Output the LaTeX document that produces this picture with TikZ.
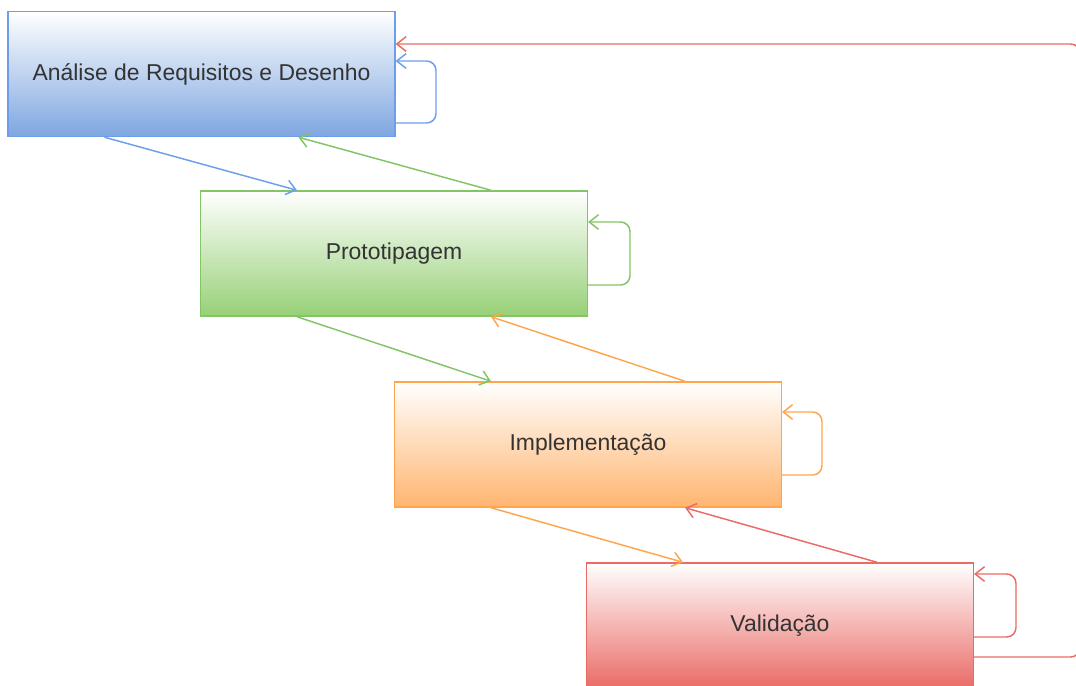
\documentclass[tikz,border=0pt]{standalone}
\usepackage{fontspec}
\setmainfont{Liberation Sans}
\usetikzlibrary{arrows.meta,calc}
\definecolor{blueS}{HTML}{6D9EEB}
\definecolor{blueF}{HTML}{7EA6E0}
\definecolor{greenS}{HTML}{82C566}
\definecolor{greenF}{HTML}{97D077}
\definecolor{orangeS}{HTML}{FFA64D}
\definecolor{orangeF}{HTML}{FFB570}
\definecolor{redS}{HTML}{EA6B66}
\definecolor{redF}{HTML}{EA6B66}
\definecolor{txt}{HTML}{333333}
\begin{document}
\begin{tikzpicture}[x=0.75pt,y=-0.75pt,
  phase/.style={draw=#1S, line width=1.1pt, top color=white, bottom color=#1F,
    minimum width=290pt, minimum height=93.75pt, inner sep=0pt,
    font=\fontsize{17.2pt}{20pt}\selectfont, text=txt},
  flow/.style={draw=#1S, line width=1.1pt, -{Straight Barb[length=7pt,width=11pt]}},
  backloop/.style={flow=#1, rounded corners=7pt}
]
\path[use as bounding box, clip] (0,0) rectangle (1076,686);

% phases of the process
\node[phase=blue]   (a) at (201.5,74)   {Análise de Requisitos e Desenho};
\node[phase=green]  (b) at (394,253.5)  {Prototipagem};
\node[phase=orange] (c) at (588,444.5)  {Implementação};
\node[phase=red]    (d) at (780,625.5)  {Validação};

% forward steps
\draw[flow=blue]   ($(a.south west)!.25!(a.south east)$) -- ($(b.north west)!.25!(b.north east)$);
\draw[flow=green]  ($(b.south west)!.25!(b.south east)$) -- ($(c.north west)!.25!(c.north east)$);
\draw[flow=orange] ($(c.south west)!.25!(c.south east)$) -- ($(d.north west)!.25!(d.north east)$);

% backward steps
\draw[flow=green]  ($(b.north west)!.75!(b.north east)$) -- ($(a.south west)!.75!(a.south east)$);
\draw[flow=orange] ($(c.north west)!.75!(c.north east)$) -- ($(b.south west)!.75!(b.south east)$);
\draw[flow=red]    ($(d.north west)!.75!(d.north east)$) -- ($(c.south west)!.75!(c.south east)$);

% iterations within each phase
\draw[backloop=blue]   (a.east |- 0,123) -- (436,123) -- (436,61)  -- (a.east |- 0,61);
\draw[backloop=green]  (b.east |- 0,285) -- (630,285) -- (630,222) -- (b.east |- 0,222);
\draw[backloop=orange] (c.east |- 0,475) -- (822,475) -- (822,412) -- (c.east |- 0,412);
\draw[backloop=red]    (d.east |- 0,637) -- (1016,637) -- (1016,574) -- (d.east |- 0,574);

% return from validation to analysis
\draw[backloop=red] (d.east |- 0,657) -- (1080,657) -- (1080,44) -- (a.east |- 0,44);
\end{tikzpicture}
\end{document}
